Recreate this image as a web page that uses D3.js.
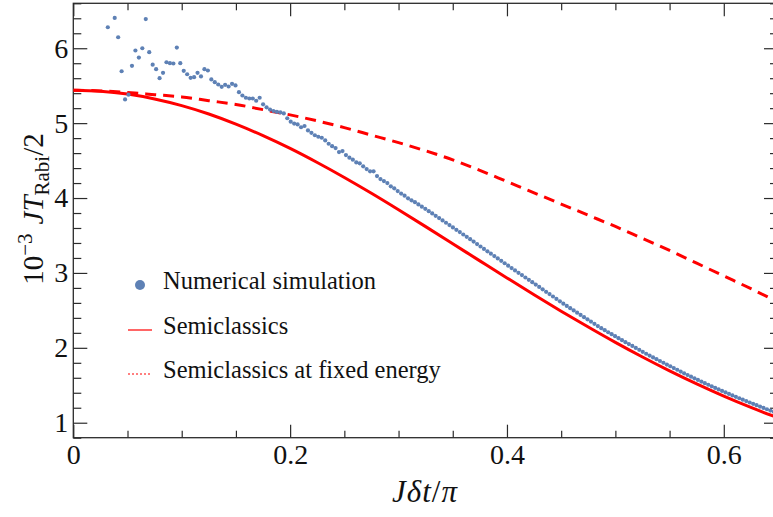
<!DOCTYPE html>
<html>
<head>
<meta charset="utf-8">
<script src="https://cdn.jsdelivr.net/npm/d3@7"></script>
<style>
  body { margin: 0; background: #fff; }
  svg { display: block; }
  svg text { font-family: "Liberation Serif", "Times New Roman", serif; }
</style>
</head>
<body>
<svg id="chart" width="773" height="517"></svg>
<script>
// numerical simulation: sample k sits at J dt / pi = k * 0.01 / pi, first sample k = 10
var simFirstK = 10;
var simValues = [
  6.28, null, 6.405, 6.147, 5.693, 5.316, 5.38, 5.765, 5.97, 5.876,
  6.0, 6.39, 5.947, 5.78, 5.72, 5.6, 5.672, 5.813, 5.8, 5.796,
  6.009, 5.8, 5.699, 5.653, 5.605, 5.613, 5.672, 5.623, 5.72, 5.703,
  5.583, 5.547, 5.516, 5.485, 5.512, 5.489, 5.525, 5.503, 5.413, 5.369,
  5.339, 5.329, 5.329, 5.299, 5.339, 5.251, 5.211, 5.181, 5.162, 5.15,
  5.143, 5.129, 5.065, 5.02, 4.994, 4.983, 4.945, 4.962, 4.903, 4.87,
  4.838, 4.818, 4.805, 4.769, 4.725, 4.693, 4.667, 4.613, 4.627, 4.573,
  4.539, 4.512, 4.476, 4.463, 4.423, 4.387, 4.356, 4.356, 4.293, 4.253,
  4.227, 4.2, 4.156, 4.129, 4.093, 4.059, 4.032, 3.996, 3.97, 3.945,
  3.915, 3.885, 3.856, 3.825, 3.794, 3.763, 3.732, 3.701, 3.670, 3.639,
  3.608, 3.576, 3.545, 3.513, 3.482, 3.450, 3.418, 3.385, 3.353, 3.321,
  3.289, 3.257, 3.225, 3.193, 3.161, 3.129, 3.097, 3.065, 3.034, 3.002,
  2.971, 2.939, 2.908, 2.876, 2.845, 2.813, 2.781, 2.748, 2.717, 2.685,
  2.653, 2.621, 2.590, 2.559, 2.529, 2.499, 2.469, 2.439, 2.409, 2.380,
  2.350, 2.321, 2.291, 2.262, 2.235, 2.208, 2.182, 2.155, 2.129, 2.102,
  2.076, 2.050, 2.025, 1.999, 1.973, 1.947, 1.921, 1.897, 1.872, 1.849,
  1.824, 1.801, 1.777, 1.754, 1.730, 1.707, 1.683, 1.660, 1.637, 1.615,
  1.593, 1.571, 1.549, 1.528, 1.507, 1.486, 1.465, 1.444, 1.424, 1.404,
  1.384, 1.365, 1.346, 1.327, 1.308, 1.289, 1.270, 1.252, 1.234, 1.216,
  1.198, 1.180, 1.162, 1.145, 1.128
];

// semiclassical curves, read on a 0.025 grid
var curveX = [0, 0.025, 0.05, 0.075, 0.1, 0.125, 0.15, 0.175, 0.2, 0.225, 0.25, 0.275, 0.3,
  0.325, 0.35, 0.375, 0.4, 0.425, 0.45, 0.475, 0.5, 0.525, 0.55, 0.575, 0.6, 0.625, 0.65];
var semiValues = [5.44, 5.427, 5.388, 5.323, 5.234, 5.122, 4.987, 4.833, 4.662, 4.474, 4.274,
  4.063, 3.843, 3.618, 3.390, 3.161, 2.933, 2.709, 2.489, 2.277, 2.072, 1.877, 1.692, 1.518,
  1.355, 1.204, 1.065];
var fixedValues = [5.44, 5.43, 5.41, 5.38, 5.35, 5.30, 5.25, 5.18, 5.11, 5.03, 4.94, 4.84, 4.74,
  4.63, 4.51, 4.37, 4.22, 4.07, 3.92, 3.77, 3.62, 3.46, 3.30, 3.13, 2.96, 2.79, 2.61];

var xTicks = [0, 0.2, 0.4, 0.6];
var xTickLabels = ['0', '0.2', '0.4', '0.6'];
var yTicks = [1, 2, 3, 4, 5, 6];
var legendLabels = ['Numerical simulation', 'Semiclassics', 'Semiclassics at fixed energy'];

var blue = '#5e81b5', red = '#ff0000', ink = '#2b2b2b';
var serif = '"Liberation Serif", "Times New Roman", serif';
var m = { left: 73.3, right: 778, top: 3.3, bottom: 437.7 };

var svg = d3.select('#chart');

var x = d3.scaleLinear().domain([0, 0.65]).range([m.left, m.right]);
var y = d3.scaleLinear().domain([0.8, 6.6]).range([m.bottom, m.top]);

var xMinor = d3.range(0, 0.66, 0.05).filter(function(v) { return Math.abs(v / 0.2 - Math.round(v / 0.2)) > 1e-6; });
var yMinor = d3.range(0.8, 6.61, 0.2).filter(function(v) { return Math.abs(v - Math.round(v)) > 1e-6; });

svg.append('clipPath').attr('id', 'plot')
  .append('rect')
  .attr('x', m.left).attr('y', m.top)
  .attr('width', m.right - m.left).attr('height', m.bottom - m.top);

function frameAxis(axis, transform) {
  var g = svg.append('g').attr('transform', transform).call(axis)
    .attr('font-family', serif).attr('font-size', 28);
  g.select('.domain').remove();
  g.selectAll('line').attr('stroke', ink).attr('stroke-width', 1.2);
  g.selectAll('text').attr('fill', '#111');
  return g;
}

// bottom and left carry the labels
frameAxis(d3.axisBottom(x).tickValues(xTicks).tickSize(-13).tickPadding(6)
  .tickFormat(function(d, i) { return xTickLabels[i]; }), 'translate(0,' + m.bottom + ')');
frameAxis(d3.axisBottom(x).tickValues(xMinor).tickSize(-7).tickFormat(''), 'translate(0,' + m.bottom + ')');
frameAxis(d3.axisLeft(y).tickValues(yTicks).tickSize(-14).tickPadding(5)
  .tickFormat(d3.format('d')), 'translate(' + m.left + ',0)');
frameAxis(d3.axisLeft(y).tickValues(yMinor).tickSize(-8).tickFormat(''), 'translate(' + m.left + ',0)');

// mirrored ticks on top and right
frameAxis(d3.axisTop(x).tickValues(xTicks).tickSize(-13).tickFormat(''), 'translate(0,' + m.top + ')');
frameAxis(d3.axisTop(x).tickValues(xMinor).tickSize(-7).tickFormat(''), 'translate(0,' + m.top + ')');
frameAxis(d3.axisRight(y).tickValues(yTicks).tickSize(-14).tickFormat(''), 'translate(' + m.right + ',0)');
frameAxis(d3.axisRight(y).tickValues(yMinor).tickSize(-8).tickFormat(''), 'translate(' + m.right + ',0)');

svg.append('rect')
  .attr('x', m.left).attr('y', m.top)
  .attr('width', m.right - m.left).attr('height', m.bottom - m.top)
  .attr('fill', 'none').attr('stroke', ink).attr('stroke-width', 1.3);

var plot = svg.append('g').attr('clip-path', 'url(#plot)');

var curve = d3.line()
  .x(function(d) { return x(d[0]); })
  .y(function(d) { return y(d[1]); })
  .curve(d3.curveMonotoneX);

plot.append('path')
  .datum(d3.zip(curveX, fixedValues))
  .attr('d', curve)
  .attr('fill', 'none').attr('stroke', red).attr('stroke-width', 3)
  .attr('stroke-dasharray', '11,7');

plot.append('path')
  .datum(d3.zip(curveX, semiValues))
  .attr('d', curve)
  .attr('fill', 'none').attr('stroke', red).attr('stroke-width', 3);

var sim = simValues.map(function(v, i) {
  return { x: (simFirstK + i) * 0.01 / Math.PI, y: v };
}).filter(function(d) { return d.y !== null; });

plot.selectAll('circle.sim')
  .data(sim)
  .enter().append('circle')
  .attr('class', 'sim')
  .attr('cx', function(d) { return x(d.x); })
  .attr('cy', function(d) { return y(d.y); })
  .attr('r', 2.1)
  .attr('fill', blue);

// legend
var legend = svg.append('g').attr('font-size', 24.5).attr('font-family', serif).attr('fill', '#111');
var rows = [285, 330, 374];

legend.append('circle').attr('cx', 140).attr('cy', rows[0]).attr('r', 5).attr('fill', blue);
legend.append('line').attr('x1', 128).attr('x2', 152).attr('y1', rows[1]).attr('y2', rows[1])
  .attr('stroke', red).attr('stroke-width', 1.2);
legend.append('line').attr('x1', 128).attr('x2', 152).attr('y1', rows[2]).attr('y2', rows[2])
  .attr('stroke', red).attr('stroke-width', 1.2).attr('stroke-dasharray', '2,2');

legend.selectAll('text')
  .data(legendLabels)
  .enter().append('text')
  .attr('x', 163)
  .attr('y', function(d, i) { return rows[i] + 4; })
  .text(function(d) { return d; });

// axis titles
var xt = svg.append('text')
  .attr('x', 425).attr('y', 502)
  .attr('text-anchor', 'middle')
  .attr('font-family', serif)
  .attr('font-size', 31).attr('font-style', 'italic').attr('fill', '#111')
  .attr('letter-spacing', 1);
xt.append('tspan').text('J\u03B4t');
xt.append('tspan').attr('font-style', 'normal').text('/');
xt.append('tspan').text('\u03C0');

var yt = svg.append('text')
  .attr('transform', 'translate(43,209) rotate(-90)')
  .attr('text-anchor', 'middle')
  .attr('font-family', serif)
  .attr('font-size', 29).attr('fill', '#111');
yt.append('tspan').text('10');
yt.append('tspan').attr('font-size', 21).attr('dy', -11).text('\u22123');
yt.append('tspan').attr('dy', 11).attr('dx', 9).attr('font-style', 'italic').text('JT');
yt.append('tspan').attr('font-size', 21).attr('dy', 6).text('Rabi');
yt.append('tspan').attr('dy', -6).text('/2');
</script>
</body>
</html>
